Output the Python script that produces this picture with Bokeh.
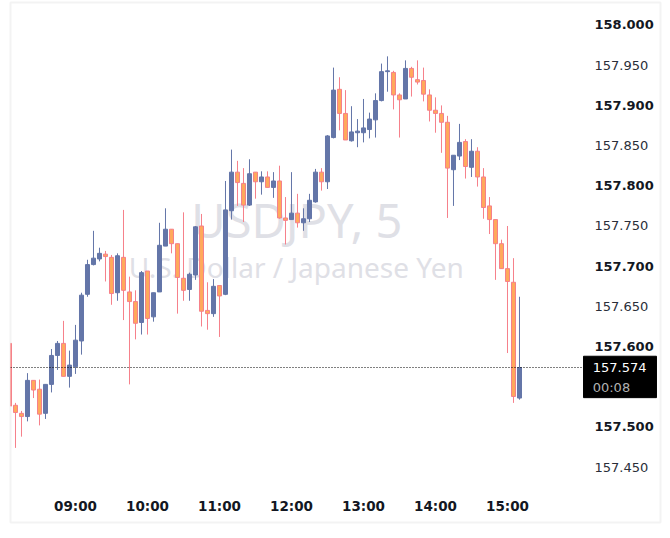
from bokeh.plotting import figure, ColumnDataSource
from bokeh.core.properties import value
from bokeh.embed import file_html
from bokeh.models import FixedTicker, LinearAxis, Range1d
from bokeh.resources import INLINE

# USDJPY 5 minute bars, bar 0 is 08:05
opens = [157.604, 157.527, 157.517, 157.513, 157.558, 157.547, 157.517, 157.553, 157.589, 157.604,
         157.563, 157.575, 157.607, 157.665, 157.702, 157.709, 157.715, 157.711, 157.667, 157.711,
         157.668, 157.656, 157.630, 157.694, 157.637, 157.668, 157.725, 157.746, 157.728, 157.685,
         157.671, 157.689, 157.750, 157.645, 157.641, 157.676, 157.665, 157.769, 157.817, 157.803,
         157.776, 157.817, 157.805, 157.811, 157.798, 157.806, 157.760, 157.758, 157.766, 157.754,
         157.759, 157.780, 157.817, 157.805, 157.860, 157.920, 157.890, 157.856, 157.866, 157.866,
         157.870, 157.882, 157.906, 157.942, 157.941, 157.913, 157.908, 157.946, 157.932, 157.931,
         157.913, 157.894, 157.890, 157.879, 157.820, 157.837, 157.855, 157.823, 157.843, 157.811,
         157.775, 157.758, 157.728, 157.697, 157.680, 157.536]
highs = [157.604, 157.530, 157.520, 157.567, 157.558, 157.559, 157.553, 157.597, 157.607, 157.632,
         157.595, 157.627, 157.667, 157.708, 157.744, 157.723, 157.719, 157.714, 157.716, 157.770,
         157.687, 157.670, 157.694, 157.694, 157.667, 157.754, 157.772, 157.746, 157.728, 157.767,
         157.692, 157.750, 157.765, 157.680, 157.684, 157.676, 157.806, 157.845, 157.831, 157.822,
         157.833, 157.817, 157.818, 157.818, 157.817, 157.825, 157.786, 157.817, 157.790, 157.772,
         157.790, 157.821, 157.822, 157.863, 157.947, 157.935, 157.919, 157.899, 157.883, 157.908,
         157.891, 157.915, 157.952, 157.961, 157.943, 157.915, 157.956, 157.948, 157.956, 157.947,
         157.920, 157.910, 157.900, 157.887, 157.838, 157.877, 157.858, 157.858, 157.848, 157.822,
         157.786, 157.758, 157.733, 157.750, 157.710, 157.662]
lows = [157.526, 157.474, 157.488, 157.507, 157.536, 157.502, 157.510, 157.543, 157.571, 157.563,
        157.549, 157.566, 157.590, 157.662, 157.701, 157.706, 157.681, 157.652, 157.657, 157.633,
        157.553, 157.609, 157.615, 157.615, 157.631, 157.668, 157.725, 157.716, 157.641, 157.657,
        157.657, 157.683, 157.625, 157.621, 157.637, 157.612, 157.664, 157.758, 157.775, 157.755,
        157.775, 157.784, 157.789, 157.798, 157.785, 157.759, 157.727, 157.758, 157.748, 157.744,
        157.755, 157.779, 157.794, 157.796, 157.859, 157.869, 157.857, 157.855, 157.848, 157.854,
        157.859, 157.860, 157.905, 157.917, 157.895, 157.860, 157.908, 157.911, 157.926, 157.905,
        157.880, 157.866, 157.841, 157.760, 157.775, 157.832, 157.809, 157.811, 157.799, 157.759,
        157.740, 157.683, 157.697, 157.592, 157.530, 157.534]
closes = [157.526, 157.518, 157.513, 157.558, 157.546, 157.516, 157.553, 157.589, 157.604, 157.563,
          157.577, 157.608, 157.664, 157.702, 157.710, 157.716, 157.712, 157.666, 157.713, 157.670,
          157.656, 157.629, 157.692, 157.635, 157.667, 157.726, 157.746, 157.728, 157.686, 157.670,
          157.690, 157.749, 157.644, 157.641, 157.675, 157.663, 157.770, 157.817, 157.804, 157.776,
          157.815, 157.805, 157.811, 157.798, 157.806, 157.760, 157.757, 157.766, 157.754, 157.759,
          157.782, 157.817, 157.805, 157.862, 157.919, 157.890, 157.857, 157.867, 157.868, 157.872,
          157.883, 157.906, 157.942, 157.943, 157.913, 157.907, 157.946, 157.935, 157.929, 157.914,
          157.894, 157.890, 157.879, 157.822, 157.838, 157.854, 157.824, 157.843, 157.811, 157.773,
          157.758, 157.728, 157.697, 157.681, 157.538, 157.574]

last_price = 157.574
countdown = "00:08"
hour_bars = [11, 23, 35, 47, 59, 71, 83]
hour_labels = ["09:00", "10:00", "11:00", "12:00", "13:00", "14:00", "15:00"]
bold_ticks = [158.0, 157.9, 157.8, 157.7, 157.6, 157.5]
plain_ticks = [157.95, 157.85, 157.75, 157.65, 157.45]

BLUE = "#6476a8"
ORANGE = "#ffa95c"
PINK = "#f6808a"
WATERMARK = "#dfe0e6"
FONT = "DejaVu Sans"

bars = list(range(len(opens)))
rising = [c >= o for o, c in zip(opens, closes)]
source = ColumnDataSource(data=dict(
    bar=bars,
    high=highs,
    low=lows,
    top=[max(o, c) for o, c in zip(opens, closes)],
    bottom=[min(o, c) for o, c in zip(opens, closes)],
    fill=[BLUE if r else ORANGE for r in rising],
    edge=[BLUE if r else PINK for r in rising],
))

p = figure(
    width=662,
    height=524,
    output_backend="svg",
    toolbar_location=None,
    x_range=Range1d(0.1667, 108.5),
    y_range=Range1d(157.38122, 158.02798),
    x_axis_type=None,
    y_axis_type=None,
    min_border_left=10,
    min_border_right=2,
    min_border_top=2,
    min_border_bottom=2,
    margin=0,
)
p.grid.visible = False
p.outline_line_color = "#f3f3f3"
p.outline_line_width = 2

# watermark sits behind the candles
p.text([47.9], [157.7575], text=["USDJPY, 5"], text_font=value("Noto Sans"), text_font_size="47px",
       text_color=WATERMARK, text_align="center", text_baseline="middle")
p.text([47.8], [157.6985], text=["U.S. Dollar / Japanese Yen"], text_font=value("Noto Sans"),
       text_font_size="28px", text_color=WATERMARK, text_align="center", text_baseline="middle")

p.segment("bar", "high", "bar", "low", source=source, line_color="edge", line_width=1)
p.vbar("bar", width=0.6667, top="top", bottom="bottom", source=source, fill_color="fill",
       line_color="edge", line_width=1)

# last price line stops at the price tag
p.line([0.1667, 95.67], [last_price, last_price], line_color="black", line_width=1, line_dash="1 2")

p.quad(left=[95.67], right=[107.83], top=[157.5880], bottom=[157.5365], fill_color="black", line_color="black")
p.text([97.2], [last_price], text=[f"{last_price:.3f}"], text_font=value(FONT), text_font_size="13px",
       text_color="white", text_baseline="middle")
p.text([97.2], [157.5492], text=[countdown], text_font=value(FONT), text_font_size="13px",
       text_color="#b2b2b2", text_baseline="middle")

# axes are placed inside the frame, as on the original
for ticks, style, colour in [(bold_ticks, "bold", "#131722"), (plain_ticks, "normal", "#2a2e39")]:
    axis = LinearAxis(ticker=FixedTicker(ticks=ticks), fixed_location=96.5)
    axis.axis_line_color = None
    axis.major_tick_line_color = None
    axis.minor_tick_line_color = None
    axis.major_label_standoff = 0
    axis.major_label_text_font = FONT
    axis.major_label_text_font_size = "13px"
    axis.major_label_text_font_style = style
    axis.major_label_text_color = colour
    axis.major_label_overrides = {t: f"{t:.3f}" for t in ticks}
    p.add_layout(axis, "right")

time_axis = LinearAxis(ticker=FixedTicker(ticks=hour_bars), fixed_location=157.4195)
time_axis.axis_line_color = None
time_axis.major_tick_line_color = None
time_axis.minor_tick_line_color = None
time_axis.major_label_standoff = 0
time_axis.major_label_text_font = FONT
time_axis.major_label_text_font_size = "13.5px"
time_axis.major_label_text_font_style = "bold"
time_axis.major_label_text_color = "#131722"
time_axis.major_label_overrides = dict(zip(hour_bars, hour_labels))
p.add_layout(time_axis, "below")

open("out.html", "w").write(file_html(p, INLINE))
